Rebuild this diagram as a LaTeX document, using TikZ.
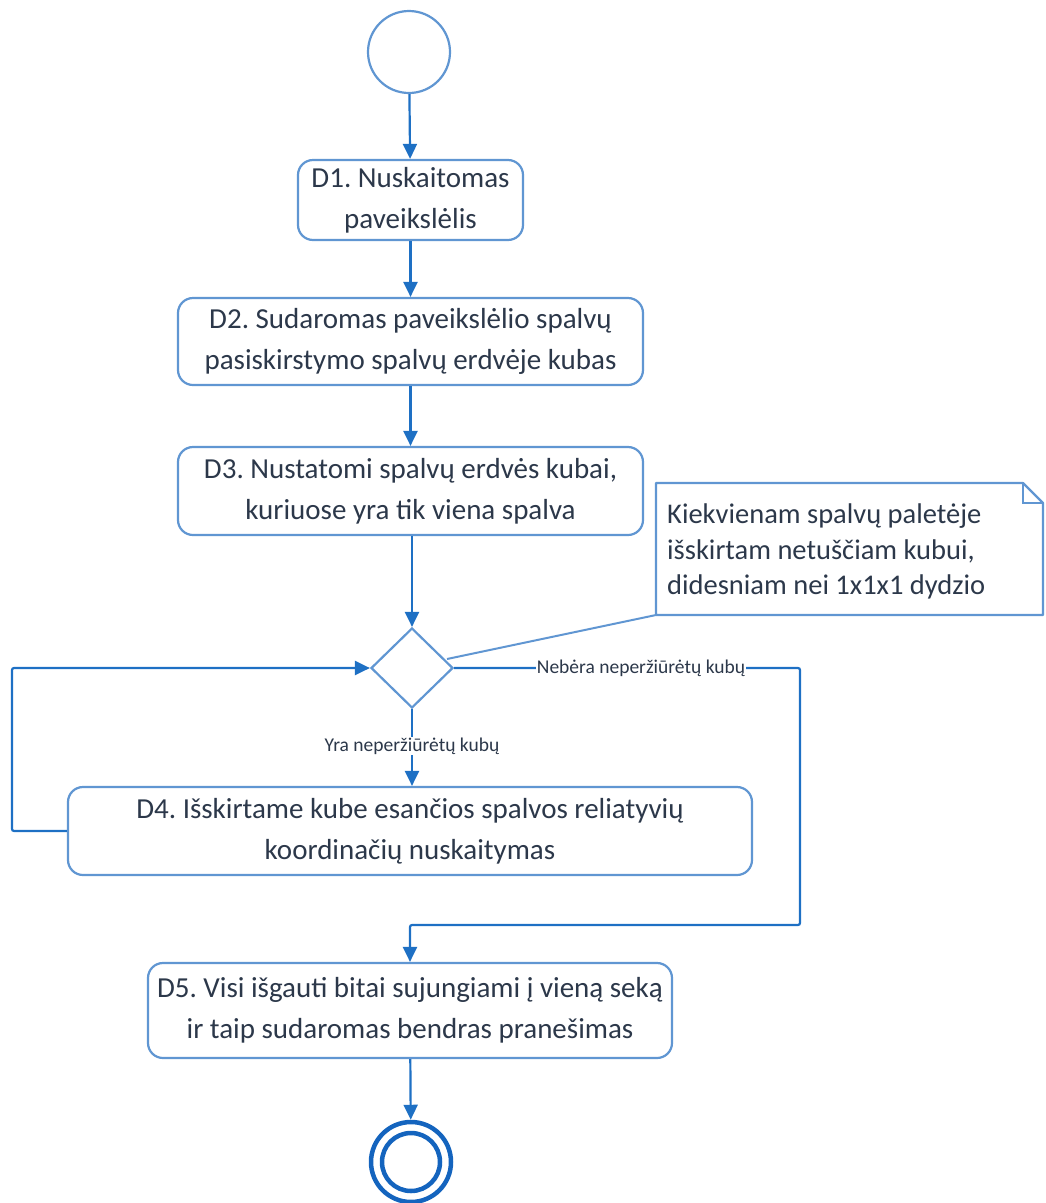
\documentclass[tikz,border=0pt]{standalone}
\usepackage{fontspec}
\setmainfont{Carlito}
\usetikzlibrary{arrows.meta,shapes.geometric}
\definecolor{boxline}{RGB}{96,150,210}
\definecolor{flowline}{RGB}{30,112,196}
\definecolor{txt}{RGB}{44,56,74}
\definecolor{endring}{RGB}{20,100,190}
\frenchspacing
\begin{document}
\begin{tikzpicture}[x=1pt,y=-1pt,
  actbox/.style={draw=boxline,line width=2.2pt,rounded corners=15pt,fill=white,
    align=center,text=txt,font=\fontsize{29}{41}\selectfont,inner sep=0pt},
  flow/.style={draw=flowline,line width=2.2pt,-{Triangle[length=15pt,width=14pt]}},
  plain/.style={draw=flowline,line width=2.2pt},
  guard/.style={text=txt,font=\fontsize{19.5}{21}\selectfont,fill=white,inner sep=1pt}]
\useasboundingbox (0,0) rectangle (1045,1203);

% initial node
\node[circle,draw=boxline,line width=2.2pt,minimum size=82pt,inner sep=0pt] (start) at (409,52) {};

% activities
\node[actbox,minimum width=225pt,minimum height=80pt] (d1) at (410.5,200)
  {D1. Nuskaitomas\\paveikslėlis};
\node[actbox,minimum width=465pt,minimum height=87pt] (d2) at (410.5,341.5)
  {D2. Sudaromas paveikslėlio spalvų\\pasiskirstymo spalvų erdvėje kubas};
\node[actbox,minimum width=465pt,minimum height=88pt] (d3) at (410.5,491)
  {D3. Nustatomi spalvų erdvės kubai,\\kuriuose yra tik viena spalva};
\node[actbox,minimum width=684pt,minimum height=88pt] (d4) at (410,831)
  {D4. Išskirtame kube esančios spalvos reliatyvių\\koordinačių nuskaitymas};
\node[actbox,minimum width=524pt,minimum height=95pt] (d5) at (410,1010.5)
  {D5. Visi išgauti bitai sujungiami į vieną seką\\ir taip sudaromas bendras pranešimas};

% decision
\node[diamond,draw=boxline,line width=2.2pt,minimum width=82pt,minimum height=80pt,inner sep=0pt] (dec) at (412,668) {};

% final node
\node[circle,draw=endring,line width=4.5pt,minimum size=80pt,inner sep=0pt] (final) at (411,1162) {};
\node[circle,draw=endring,line width=4.5pt,minimum size=58pt,inner sep=0pt] (finalin) at (411,1162) {};

% note
\node[text=txt,font=\fontsize{28.5}{35.5}\selectfont,align=left,anchor=north west,inner sep=0pt] (notetext) at (667,504)
  {Kiekvienam spalvų paletėje\\išskirtam netuščiam kubui,\\didesniam nei 1x1x1 dydzio};
\coordinate (ntl) at (656,483);
\coordinate (nbl) at (656,615);
\coordinate (nbr) at (1043,615);
\coordinate (nf1) at (1023,483);
\coordinate (nf2) at (1043,503);
\coordinate (nfc) at (1023,503);
\draw[boxline,line width=2.2pt,line join=round] (ntl) -- (nf1) -- (nf2) -- (nbr) -- (nbl) -- cycle;
\draw[boxline,line width=1.8pt] (nf1) -- (nfc) -- (nf2);
\coordinate (notehook) at (447,659);
\draw[boxline,line width=2pt] (nbl) -- (notehook);

% control flow
\draw[flow] (start) -- (d1);
\draw[flow] (d1) -- (d2);
\draw[flow] (d2) -- (d3);
\draw[flow] (d3.south -| dec.north) -- (dec.north);
\draw[flow] (dec.south) -- (d4.north -| dec.south)
  node[guard,pos=0.48] {Yra neperžiūrėtų kubų};
\coordinate (loopbl) at (12,831);
\coordinate (looptl) at (12,668);
\draw[flow,rounded corners=2pt] (d4.west) -- (loopbl) -- (looptl) -- (dec.west);
\coordinate (exitr) at (800,668);
\coordinate (exitb) at (800,925);
\coordinate (exitl) at (410,925);
\draw[flow,rounded corners=2pt] (dec.east) -- (exitr) -- (exitb) -- (exitl) -- (d5.north);
\node[guard] (noneleft) at (641,668) {Nebėra neperžiūrėtų kubų};
\draw[flow] (d5) -- (final);
\end{tikzpicture}
\end{document}
